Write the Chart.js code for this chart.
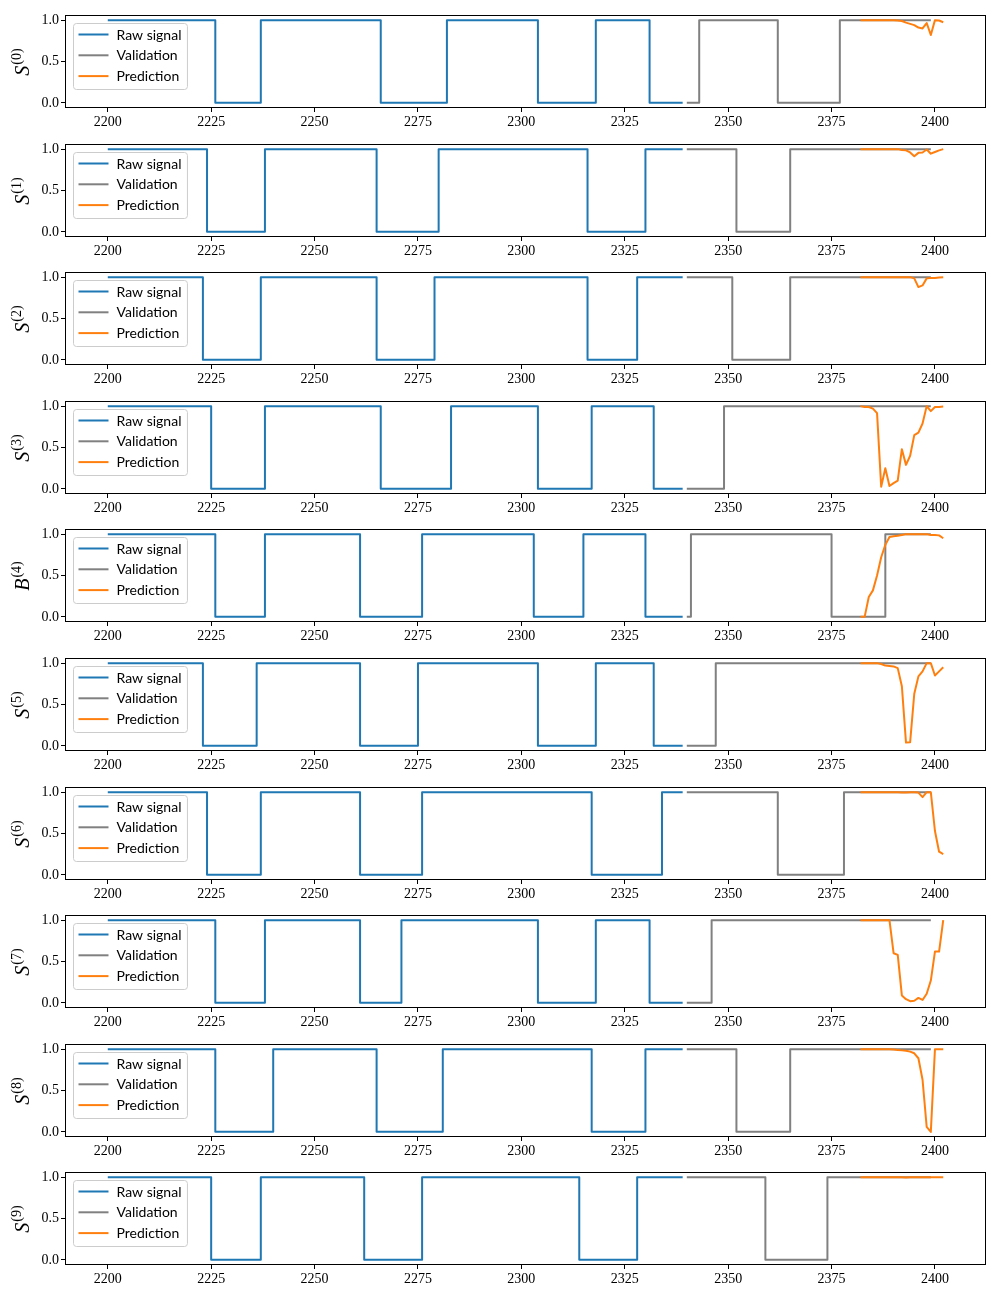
<!DOCTYPE html>
<html><head><meta charset="utf-8">
<script src="https://cdn.jsdelivr.net/npm/chart.js@4"></script>
<style>
html,body{margin:0;padding:0;background:#fff;}
#wrap{position:relative;width:1000px;height:1300px;}
canvas{position:absolute;left:0;}
</style></head><body><div id="wrap"></div>
<script>
// ---------- data ----------
const xTicks = [2200, 2225, 2250, 2275, 2300, 2325, 2350, 2375, 2400];
const yTicks = [0, 0.5, 1.0];
const seriesNames = ['Raw signal', 'Validation', 'Prediction'];
const labelBase = ['S', 'S', 'S', 'S', 'B', 'S', 'S', 'S', 'S', 'S'];
const labelIndex = ['0', '1', '2', '3', '4', '5', '6', '7', '8', '9'];
const predX = [2382, 2383, 2384, 2385, 2386, 2387, 2388, 2389, 2390, 2391, 2392, 2393, 2394, 2395, 2396, 2397, 2398, 2399, 2400, 2401, 2402];

// step signals as [time, level] breakpoints (level holds until next breakpoint)
const raw0 = [[2200,1],[2226,0],[2237,1],[2266,0],[2282,1],[2304,0],[2318,1],[2331,0],[2339,0]];
const val0 = [[2340,0],[2343,1],[2362,0],[2377,1],[2399,1]];
const pred0 = [1,1,1,1,1,1,1,1,1,0.995,0.99,0.97,0.955,0.94,0.91,0.90,0.965,0.82,1.0,0.995,0.975];

const raw1 = [[2200,1],[2224,0],[2238,1],[2265,0],[2280,1],[2316,0],[2330,1],[2339,1]];
const val1 = [[2340,1],[2352,0],[2365,1],[2399,1]];
const pred1 = [1,1,1,1,1,1,1,1,1,1,0.99,0.985,0.96,0.915,0.955,0.96,0.995,0.945,0.965,0.985,1.0];

const raw2 = [[2200,1],[2223,0],[2237,1],[2265,0],[2279,1],[2316,0],[2328,1],[2339,1]];
const val2 = [[2340,1],[2351,0],[2365,1],[2399,1]];
const pred2 = [1,1,1,1,1,1,1,1,1,1,1,1,1,0.985,0.88,0.90,0.985,0.99,0.99,0.995,1.0];

const raw3 = [[2200,1],[2225,0],[2238,1],[2266,0],[2283,1],[2304,0],[2317,1],[2332,0],[2339,0]];
const val3 = [[2340,0],[2349,1],[2399,1]];
const pred3 = [1.0,0.99,0.99,0.97,0.915,0.025,0.25,0.035,0.07,0.10,0.48,0.29,0.40,0.65,0.68,0.79,1.0,0.94,0.99,0.99,0.995];

const raw4 = [[2200,1],[2226,0],[2238,1],[2261,0],[2276,1],[2303,0],[2315,1],[2330,0],[2339,0]];
const val4 = [[2340,0],[2341,1],[2375,0],[2388,1],[2399,1]];
const pred4 = [0.0,0.0,0.24,0.32,0.5,0.72,0.87,0.965,0.975,0.98,0.99,1,1,1,1,1,1,0.99,0.99,0.985,0.95];

const raw5 = [[2200,1],[2223,0],[2236,1],[2261,0],[2275,1],[2304,0],[2318,1],[2332,0],[2339,0]];
const val5 = [[2340,0],[2347,1],[2399,1]];
const pred5 = [1,1,1,1,1,0.99,0.97,0.965,0.96,0.94,0.72,0.04,0.045,0.63,0.84,0.90,1.0,1.0,0.85,0.90,0.95];

const raw6 = [[2200,1],[2224,0],[2237,1],[2261,0],[2276,1],[2317,0],[2334,1],[2339,1]];
const val6 = [[2340,1],[2362,0],[2378,1],[2399,1]];
const pred6 = [1,1,1,1,1,1,1,1,1,1,0.995,0.995,1,1,0.995,0.94,1,1,0.53,0.28,0.25];

const raw7 = [[2200,1],[2226,0],[2238,1],[2261,0],[2271,1],[2304,0],[2318,1],[2331,0],[2339,0]];
const val7 = [[2340,0],[2346,1],[2399,1]];
const pred7 = [1,1,1,1,1,1,1,1,0.60,0.58,0.09,0.045,0.02,0.025,0.06,0.035,0.11,0.27,0.62,0.62,1.0];

const raw8 = [[2200,1],[2226,0],[2240,1],[2265,0],[2281,1],[2317,0],[2330,1],[2339,1]];
const val8 = [[2340,1],[2352,0],[2365,1],[2399,1]];
const pred8 = [1,1,1,1,1,1,1,1,0.995,0.99,0.985,0.98,0.97,0.95,0.89,0.63,0.06,0.0,1.0,1.0,1.0];

const raw9 = [[2200,1],[2225,0],[2237,1],[2262,0],[2276,1],[2314,0],[2328,1],[2339,1]];
const val9 = [[2340,1],[2359,0],[2374,1],[2399,1]];
const pred9 = [1,1,1,1,1,1,1,1,1,1,1,0.995,1,1,1,1,1,1,1,1,1];

const rawAll = [raw0, raw1, raw2, raw3, raw4, raw5, raw6, raw7, raw8, raw9];
const valAll = [val0, val1, val2, val3, val4, val5, val6, val7, val8, val9];
const predAll = [pred0, pred1, pred2, pred3, pred4, pred5, pred6, pred7, pred8, pred9];

// ---------- styling / layout ----------
const COLORS = ['#1f77b4', '#808080', '#ff7f0e'];
const PITCH = 128.6, CH = 128;
const serif = '"Liberation Serif", "DejaVu Serif", serif';

const decor = {
  id: 'decor',
  afterDatasetsDraw(chart) {
    const ctx = chart.ctx, a = chart.chartArea;
    ctx.save();
    // axes frame
    ctx.strokeStyle = '#000'; ctx.lineWidth = 1;
    ctx.strokeRect(Math.round(a.left) - 0.5, Math.round(a.top) - 0.5, Math.round(a.right - a.left) + 1, Math.round(a.bottom - a.top) + 1);
    // legend
    ctx.font = '14px Lato, "Open Sans", sans-serif';
    const ds = chart.data.datasets;
    const tw = Math.max(...ds.map(d => ctx.measureText(d.label).width));
    const x0 = a.left + 7.5, y0 = a.top + 7.5;
    const w = 43 + tw + 6, h = 66;
    ctx.beginPath();
    ctx.roundRect(x0, y0, w, h, 3);
    ctx.fillStyle = 'rgba(255,255,255,0.8)'; ctx.fill();
    ctx.strokeStyle = '#cccccc'; ctx.lineWidth = 1; ctx.stroke();
    ds.forEach((d, k) => {
      const yy = y0 + 11 + k * 20.8;
      ctx.strokeStyle = d.borderColor; ctx.lineWidth = 2;
      ctx.beginPath(); ctx.moveTo(x0 + 5, yy); ctx.lineTo(x0 + 35, yy); ctx.stroke();
      ctx.fillStyle = '#000'; ctx.textBaseline = 'middle'; ctx.textAlign = 'left';
      ctx.fillText(d.label, x0 + 43, yy + 0.5);
    });
    ctx.restore();
  },
  afterDraw(chart) {
    const ctx = chart.ctx, a = chart.chartArea;
    const o = chart.options.plugins.decor;
    ctx.save();
    const yMid = (a.top + a.bottom) / 2;
    ctx.translate(24, yMid);
    ctx.rotate(-Math.PI / 2);
    const fMain = 'italic 20px ' + serif;
    const fSup = '14px ' + serif;
    ctx.font = fMain; const w1 = ctx.measureText(o.base).width;
    const supTxt = '(' + o.index + ')';
    ctx.font = fSup; const w2 = ctx.measureText(supTxt).width;
    const start = -(w1 + w2) / 2 - 1;
    ctx.fillStyle = '#000'; ctx.textBaseline = 'alphabetic'; ctx.textAlign = 'left';
    ctx.font = fMain; ctx.fillText(o.base, start, 5);
    ctx.font = fSup; ctx.fillText(supTxt, start + w1 + 1, -3);
    ctx.restore();
  }
};

const wrap = document.getElementById('wrap');
for (let i = 0; i < 10; i++) {
  const cv = document.createElement('canvas');
  cv.width = 1000; cv.height = CH;
  cv.style.width = '1000px'; cv.style.height = CH + 'px';
  cv.style.top = Math.round(i * PITCH) + 'px';
  wrap.appendChild(cv);

  const lineBase = { pointRadius: 0, borderWidth: 2, fill: false, borderJoinStyle: 'round', borderCapStyle: 'butt', tension: 0 };
  new Chart(cv.getContext('2d'), {
    type: 'line',
    data: {
      datasets: [
        Object.assign({}, lineBase, { label: seriesNames[0], borderColor: COLORS[0], stepped: true, order: 2,
          data: rawAll[i].map(p => ({ x: p[0], y: p[1] })) }),
        Object.assign({}, lineBase, { label: seriesNames[1], borderColor: COLORS[1], stepped: true, order: 1,
          data: valAll[i].map(p => ({ x: p[0], y: p[1] })) }),
        Object.assign({}, lineBase, { label: seriesNames[2], borderColor: COLORS[2], order: 0,
          data: predX.map((x, k) => ({ x: x, y: predAll[i][k] })) })
      ]
    },
    options: {
      responsive: false, animation: false, devicePixelRatio: 1,
      layout: { padding: { top: 16, right: 15, left: 0, bottom: 0 } },
      plugins: { legend: { display: false }, tooltip: { enabled: false },
        decor: { base: labelBase[i], index: labelIndex[i] } },
      scales: {
        x: {
          type: 'linear', min: 2189.9, max: 2412.1,
          afterBuildTicks: s => { s.ticks = xTicks.map(v => ({ value: v })); },
          afterFit: s => { s.height = CH - 107; },
          border: { display: false },
          grid: { drawOnChartArea: false, drawTicks: true, tickLength: 5, color: '#000', lineWidth: 1 },
          ticks: { color: '#000', font: { family: serif, size: 14 }, padding: 2, maxRotation: 0, autoSkip: false,
            callback: v => String(v) }
        },
        y: {
          type: 'linear', min: -0.05, max: 1.05,
          afterBuildTicks: s => { s.ticks = yTicks.map(v => ({ value: v })); },
          afterFit: s => { s.width = 66; },
          border: { display: false },
          grid: { drawOnChartArea: false, drawTicks: true, tickLength: 5, color: '#000', lineWidth: 1 },
          ticks: { color: '#000', font: { family: serif, size: 14 }, padding: 2, autoSkip: false,
            callback: v => Number(v).toFixed(1) }
        }
      }
    },
    plugins: [decor]
  });
}
</script>
</body></html>
